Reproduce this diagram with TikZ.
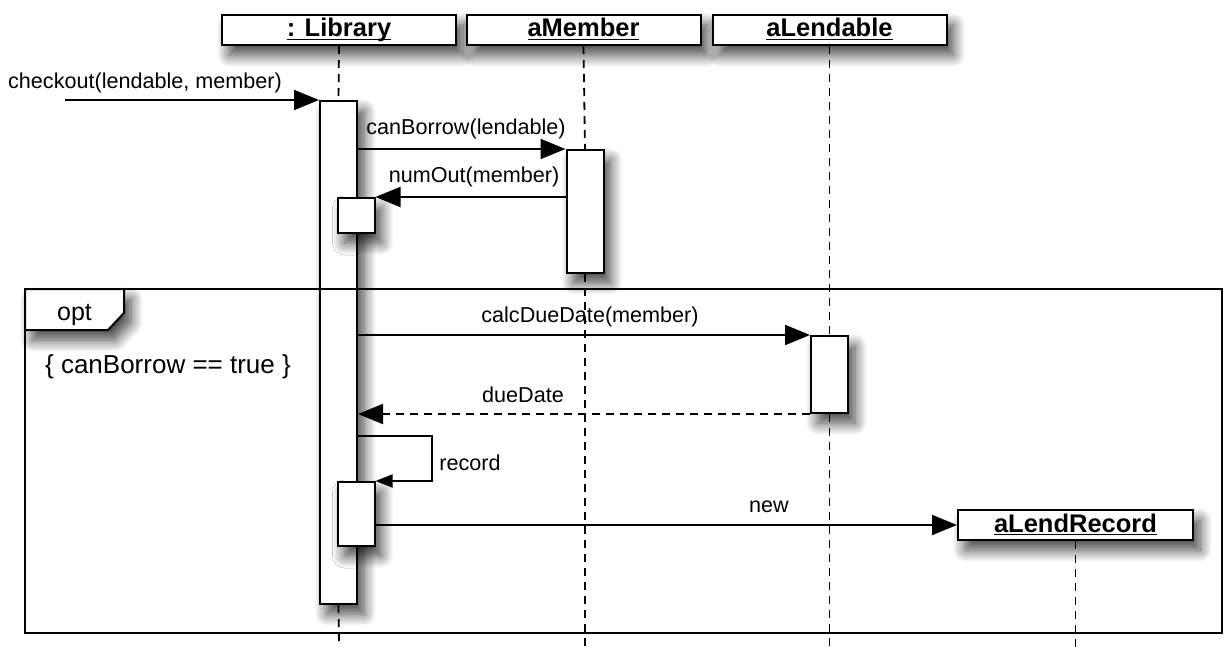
\documentclass[tikz,border=0pt]{standalone}
\usepackage{fontspec}
\setmainfont{Liberation Sans}
\usetikzlibrary{arrows.meta,shadows.blur}
\newcommand\objname[1]{\setbox0\hbox{#1}\rlap{\rule[-1.6pt]{\wd0}{0.7pt}}\box0}

\begin{document}
\begin{tikzpicture}[x=0.5pt,y=-0.5pt,
  >={Triangle[length=12.5pt,width=10pt,fill=black]},
  shade/.style={blur shadow={shadow xshift=3.5pt,shadow yshift=-5pt,shadow blur radius=6pt,shadow blur steps=12,shadow opacity=75}},
  head/.style={draw,line width=1pt,fill=white,shade,minimum width=117pt,minimum height=15pt,inner sep=0pt,text height=9.5pt,text depth=2.5pt,font=\fontsize{12.75}{14}\selectfont\bfseries},
  act/.style={draw,line width=1pt,fill=white,shade,minimum width=18.5pt,inner sep=0pt,anchor=north},
  msg/.style={->,line width=1pt,draw opacity=1,fill opacity=1},
  life/.style={line width=0.9pt,dash pattern=on 4pt off 3pt},
  lbl/.style={inner sep=0pt,font=\fontsize{10.8}{13}\selectfont}]
\useasboundingbox (0,0) rectangle (1231,647);
% lifeline heads
\node[head] (lib) at (339,30) {\objname{: Library}};
\node[head] (mem) at (583.5,30) {\objname{aMember}};
\node[head] (lend) at (829.5,30) {\objname{aLendable}};
% activations
\node[act, minimum height=251.5pt] (libA) at (338.5,100) {};
\node[act, minimum height=17.5pt] (lib1) at (356,197) {};
\node[act, minimum height=32pt] (lib2) at (356,481) {};
\node[act, minimum height=61.5pt] (memA) at (585,149) {};
\node[act, minimum height=38.5pt] (lendA) at (829.5,335) {};
\node[head, minimum width=117.5pt] (rec) at (1075.5,525) {\objname{aLendRecord}};
\coordinate (caller) at (65,100);
% lifelines
\draw[life] (lib.south) -- (libA.north);
\draw[life] (libA.south) -- (339,647);
\draw[life] (mem.south) -- (memA.north);
\draw[life] (memA.south) -- (585,647);
\draw[life] (lend.south) -- (lendA.north);
\draw[life] (lendA.south) -- (829.5,647);
\draw[life] (rec.south) -- (1075.5,647);
% opt fragment
\draw[line width=1pt] (25,289) rectangle (1222,633);
\draw[line width=1pt,fill=white,shade] (25,289) -- (124,289) -- (124,313) -- (108,330) -- (25,330) -- cycle;
\node[inner sep=0pt,anchor=base,font=\fontsize{12.5}{14}\selectfont] (opt) at (74.5,320) {opt};
\node[inner sep=0pt,font=\fontsize{13}{15}\selectfont] (cond) at (168,367) {\{ canBorrow == true \}};
% messages
\draw[msg] (caller) -- (libA.north west);
\node[lbl] (m1) at (145,82.5) {checkout(lendable, member)};
\draw[msg] (libA.east |- memA.north west) -- (memA.north west);
\node[lbl] (m2) at (466,128.5) {canBorrow(lendable)};
\draw[msg] (memA.west |- lib1.north east) -- (lib1.north east);
\node[lbl] (m3) at (474,176.5) {numOut(member)};
\draw[msg] (libA.east |- lendA.north west) -- (lendA.north west);
\node[lbl] (m4) at (590,316.5) {calcDueDate(member)};
\draw[msg,dash pattern=on 4pt off 3pt] (lendA.south west) -- (libA.east |- lendA.south west);
\node[lbl,anchor=base] (m5) at (523,402) {dueDate};
\draw[msg,-{Triangle[length=8.5pt,width=6.5pt,fill=black]}] (libA.east |- 0,436) -- ++(74,0) |- (lib2.north east);
\node[lbl,anchor=base] (m6) at (470,470) {record};
\draw[msg] (lib2.east |- rec.west) -- (rec.west);
\node[lbl,anchor=base] (m7) at (769,512) {new};
\end{tikzpicture}
\end{document}
